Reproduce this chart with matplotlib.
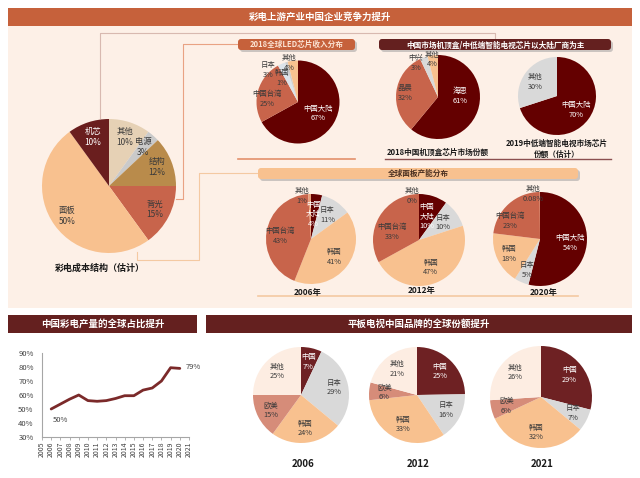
import matplotlib
matplotlib.use('Agg')
import matplotlib.pyplot as plt
from matplotlib.patches import Rectangle, FancyBboxPatch
from matplotlib.colors import to_rgb

plt.rcParams['font.family'] = ['Noto Sans CJK SC', 'DejaVu Sans']

W, H = 640, 478

# ---- data ----
cost_names = ['其他', '电源', '结构', '背光', '面板', '机芯']
cost_values = [10, 3, 12, 15, 50, 10]

led_names = ['中国大陆', '中国台湾', '日本', '韩国', '其他']
led_values = [67, 25, 3, 1, 4]

stb_names = ['海思', '晶晨', '中兴', '其他']
stb_values = [61, 32, 3, 4]

tvchip_names = ['中国大陆', '其他']
tvchip_values = [70, 30]

panel_names = ['中国大陆', '日本', '韩国', '中国台湾', '其他']
panel_names_narrow = ['中国\n大陆', '日本', '韩国', '中国台湾', '其他']
panel_2006 = [4, 11, 41, 43, 1]
panel_2012 = [10, 10, 47, 33, 0]
panel_2020 = [54, 5, 18, 23, 0.08]

brand_names = ['中国', '日本', '韩国', '欧美', '其他']
brand_2006 = [7, 29, 24, 15, 25]
brand_2012 = [25, 16, 33, 6, 21]
brand_2021 = [29, 7, 32, 6, 26]

share_years = list(range(2006, 2021))
share_values = [50, 53.5, 57, 60, 56, 55.5, 56, 57.5, 59.5, 59.5, 63.5, 65, 70, 79.5, 79]

# ---- colours ----
MAROON = '#64201F'
RUST = '#C6613B'
DARK = '#640000'
BROWN = '#6E2123'
TERRA = '#C8644B'
PEACH = '#F8C18F'
GREY = '#D9D9D9'

fig = plt.figure(figsize=(W / 100, H / 100), dpi=100)
bg = fig.add_axes([0, 0, 1, 1])
bg.set_xlim(0, W)
bg.set_ylim(H, 0)
bg.axis('off')


def box(x0, y0, x1, y1, color, text, tcolor='white', fs=6.8, round_=False, shadow=False):
    if shadow:
        bg.add_patch(FancyBboxPatch((x0 + 2, y0 + 2), x1 - x0, y1 - y0,
                                    boxstyle='round,pad=0,rounding_size=3',
                                    fc='#9a9a9a', ec='none', alpha=0.5, zorder=1))
    if round_:
        bg.add_patch(FancyBboxPatch((x0, y0), x1 - x0, y1 - y0,
                                    boxstyle='round,pad=0,rounding_size=3',
                                    fc=color, ec='none', zorder=2))
    else:
        bg.add_patch(Rectangle((x0, y0), x1 - x0, y1 - y0, fc=color, ec='none', zorder=2))
    bg.text((x0 + x1) / 2, (y0 + y1) / 2, text, color=tcolor, fontsize=fs,
            fontweight='bold', ha='center', va='center', zorder=3)


# backgrounds and banners
bg.add_patch(Rectangle((8, 26), 624, 282, fc='#FDF0E7', ec='none', zorder=0))
box(8, 8, 632, 26, RUST, '彩电上游产业中国企业竞争力提升')
box(8, 315, 197, 333, MAROON, '中国彩电产量的全球占比提升')
box(206, 315, 632, 333, MAROON, '平板电视中国品牌的全球份额提升')
box(238, 39, 355, 50, RUST, '2018全球LED芯片收入分布', tcolor='#FBE3D3', fs=5.5,
    round_=True, shadow=True)
box(379, 39, 611, 50, MAROON, '中国市场机顶盒/中低端智能电视芯片以大陆厂商为主', fs=5.5,
    round_=True, shadow=True)
box(258, 168, 578, 179, PEACH, '全球面板产能分布', tcolor='#4a2f20', fs=5.5,
    round_=True, shadow=True)

# connector lines
bg.plot([100, 100, 495, 495], [118, 33, 33, 38], color='#D8B9B0', lw=0.8, zorder=1)
bg.plot([176, 183, 183, 238], [199, 199, 44, 44], color='#E9A283', lw=0.8, zorder=1)
bg.plot([137, 137, 199, 199, 258], [252, 260, 260, 173, 173], color='#F4C9A2', lw=0.8, zorder=1)
bg.plot([238, 355], [159, 159], color='#E3916C', lw=1.2, zorder=1)
bg.plot([385, 611], [159, 159], color='#8B5050', lw=1.0, zorder=1)
bg.plot([258, 578], [296, 296], color='#F4C9A2', lw=1.2, zorder=1)

# captions
cap = dict(fontweight='bold', ha='center', va='center', color='#1a1a1a')
bg.text(100, 268, '彩电成本结构（估计）', fontsize=6.5, **cap)
bg.text(438, 152, '2018中国机顶盒芯片市场份额', fontsize=5.5, **cap)
bg.text(557, 149, '2019中低端智能电视市场芯片\n份额（估计）', fontsize=5.5, linespacing=1.2, **cap)
bg.text(308, 292, '2006年', fontsize=6, **cap)
bg.text(422, 291, '2012年', fontsize=6, **cap)
bg.text(544, 293, '2020年', fontsize=6, **cap)
bg.text(303, 464, '2006', fontsize=7, **cap)
bg.text(418, 464, '2012', fontsize=7, **cap)
bg.text(542, 464, '2021', fontsize=7, **cap)


def fmt(v):
    return f'{v:g}%'


def pie_at(cx, cy, r, values, names, colors, dist=0.65, pos=None, fs=5.3):
    ax = fig.add_axes([(cx - r) / W, 1 - (cy + r) / H, 2 * r / W, 2 * r / H])
    wedges, _ = ax.pie(values, colors=colors, startangle=90, counterclock=False,
                       wedgeprops=dict(linewidth=0))
    ax.set_xlim(-1, 1)
    ax.set_ylim(-1, 1)
    ax.set_aspect('equal')
    pos = pos or {}
    for i, w in enumerate(wedges):
        if i in pos:
            x, y = pos[i]
        else:
            import math
            t = math.radians((w.theta1 + w.theta2) / 2)
            x, y = dist * math.cos(t), dist * math.sin(t)
        rgb = to_rgb(colors[i])
        lum = 0.2126 * rgb[0] + 0.7152 * rgb[1] + 0.0722 * rgb[2]
        tc = 'white' if lum < 0.3 else '#3a3a3a'
        if i in pos and abs(pos[i][1]) > 0.85:
            tc = '#3a3a3a'
        ax.text(x, y, f'{names[i]}\n{fmt(values[i])}', ha='center', va='center',
                fontsize=fs, color=tc, linespacing=1.25)
    return ax


pie_at(109, 186, 67, cost_values, cost_names,
       ['#E6D1B5', '#CACACA', '#B98B4B', TERRA, PEACH, '#6A1E1E'], dist=0.77, fs=6)
pie_at(298, 102, 41.5, led_values, led_names, [DARK, TERRA, '#DCE3EA', '#CFCFCF', PEACH],
       dist=0.55, pos={1: (-0.75, 0.07), 2: (-0.72, 0.77), 3: (-0.39, 0.58), 4: (-0.22, 0.94)})
pie_at(438, 97, 42, stb_values, stb_names, [DARK, TERRA, GREY, PEACH],
       pos={0: (0.52, 0.02), 1: (-0.79, 0.1), 2: (-0.52, 0.81), 3: (-0.14, 0.9)})
pie_at(557, 96, 39, tvchip_values, tvchip_names, [DARK, GREY],
       pos={0: (0.49, -0.36), 1: (-0.56, 0.36)})

panel_colors = [DARK, GREY, PEACH, TERRA, '#E8A07A']
pie_at(311, 239, 45, panel_2006, panel_names_narrow, panel_colors,
       pos={0: (0.05, 0.55), 3: (-0.69, 0.07), 4: (-0.2, 0.96)})
pie_at(419, 240, 46, panel_2012, panel_names_narrow, panel_colors,
       pos={0: (0.17, 0.5), 3: (-0.59, 0.17), 4: (-0.15, 0.96)})
pie_at(540, 239, 47, panel_2020, panel_names, panel_colors,
       pos={1: (-0.28, -0.66), 2: (-0.66, -0.32), 3: (-0.64, 0.38), 4: (-0.15, 0.96)})

brand_colors = [BROWN, GREY, PEACH, '#D68C79', '#FDEDE2']
pie_at(301, 395, 48, brand_2006, brand_names, brand_colors, dist=0.7)
pie_at(417, 395, 48, brand_2012, brand_names, brand_colors, dist=0.68)
pie_at(541, 397, 51, brand_2021, brand_names, brand_colors, dist=0.7)

# line chart
lx = fig.add_axes([42 / W, 1 - 437 / H, 147 / W, 84 / H])
lx.set_facecolor('none')
lx.plot(share_years, share_values, color='#7B2A2A', lw=2, solid_joinstyle='round',
        solid_capstyle='round')
lx.set_xlim(2005, 2021)
lx.set_ylim(30, 90)
lx.set_xticks(range(2005, 2022))
lx.set_xticklabels([str(y) for y in range(2005, 2022)], rotation=90, fontsize=5, color='#404040')
lx.set_yticks(range(30, 91, 10))
lx.set_yticklabels([f'{v}%' for v in range(30, 91, 10)], fontsize=5.5, color='#404040')
lx.tick_params(axis='y', length=0, pad=6)
lx.tick_params(axis='x', length=2, width=0.6, color='#A6A6A6', pad=1)
for s in ['top', 'right']:
    lx.spines[s].set_visible(False)
for s in ['left', 'bottom']:
    lx.spines[s].set_color('#A6A6A6')
    lx.spines[s].set_linewidth(0.8)
lx.annotate(f'{share_values[0]:.0f}%', (share_years[0], share_values[0]), xytext=(1, -8),
            textcoords='offset points', fontsize=5.5, color='#404040', va='center')
lx.annotate(f'{share_values[-1]:.0f}%', (share_years[-1], share_values[-1]), xytext=(4, 1),
            textcoords='offset points', fontsize=5.5, color='#404040', va='center')

fig.savefig('out.png', dpi=100, facecolor='white')
